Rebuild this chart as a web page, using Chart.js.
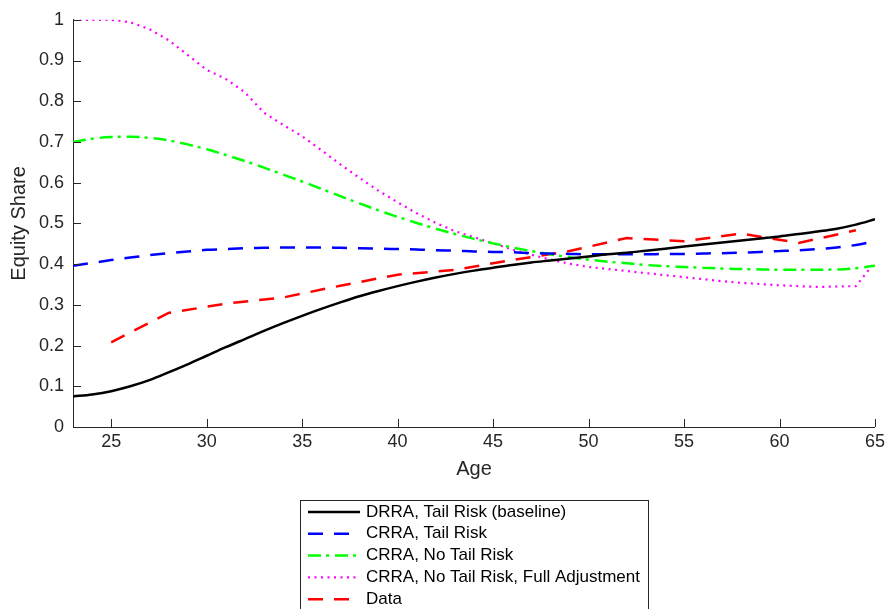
<!DOCTYPE html>
<html>
<head>
<meta charset="utf-8">
<script src="https://cdn.jsdelivr.net/npm/chart.js"></script>
<style>
  html, body { margin: 0; padding: 0; background: #fff; }
  #wrap { width: 889px; height: 609px; }
</style>
</head>
<body>
<div id="wrap"><canvas id="line-chart" width="889" height="609"></canvas></div>
<script>
// model ages, one point per year
var ages = [23,24,25,26,27,28,29,30,31,32,33,34,35,36,37,38,39,40,41,42,43,44,
            45,46,47,48,49,50,51,52,53,54,55,56,57,58,59,60,61,62,63,64,65];

var drraTail = [0.075,0.080,0.088,0.100,0.115,0.134,0.154,0.175,0.196,0.216,0.236,0.255,
                0.273,0.290,0.306,0.321,0.334,0.346,0.357,0.367,0.376,0.384,0.391,0.398,
                0.404,0.409,0.414,0.419,0.424,0.428,0.433,0.438,0.443,0.448,0.453,0.458,
                0.463,0.468,0.474,0.480,0.487,0.497,0.510];

var crraTail = [0.396,0.403,0.410,0.416,0.422,0.427,0.431,0.435,0.437,0.439,0.440,0.441,
                0.441,0.441,0.440,0.439,0.438,0.437,0.436,0.434,0.433,0.431,0.430,0.429,
                0.427,0.426,0.425,0.424,0.424,0.424,0.424,0.425,0.425,0.426,0.427,0.428,
                0.430,0.432,0.434,0.437,0.441,0.447,0.456];

var crraNoTail = [0.700,0.708,0.712,0.713,0.710,0.704,0.694,0.682,0.668,0.653,0.637,0.620,
                  0.603,0.585,0.567,0.549,0.532,0.516,0.501,0.487,0.474,0.462,0.451,0.441,
                  0.432,0.424,0.417,0.411,0.406,0.402,0.398,0.395,0.393,0.391,0.389,0.388,
                  0.387,0.386,0.386,0.386,0.387,0.390,0.396];

var crraFull = [1.000,1.000,1.000,0.994,0.977,0.950,0.914,0.877,0.855,0.822,0.772,0.742,
                0.714,0.680,0.645,0.612,0.580,0.552,0.525,0.501,0.481,0.466,0.451,0.436,
                0.423,0.411,0.401,0.393,0.388,0.383,0.378,0.373,0.368,0.363,0.358,0.354,
                0.351,0.348,0.346,0.344,0.345,0.346,0.405];

// observed data, every third year
var dataAges = [25,28,31,34,37,40,43,46,49,52,55,58,61,64];
var dataShare = [0.208,0.280,0.303,0.318,0.347,0.374,0.386,0.410,0.432,0.464,0.456,0.475,0.452,0.483];

var xTicks = [25,30,35,40,45,50,55,60,65];
var yTicks = [0,0.1,0.2,0.3,0.4,0.5,0.6,0.7,0.8,0.9,1];

var ink = "#262626";
var fam = "'Liberation Sans', Arial, Helvetica, sans-serif";

function pts(xs, ys) {
    return xs.map(function (x, i) { return { x: x, y: ys[i] }; });
}

// ticks pointing into the plot, like the original
var innerTicks = {
    id: 'innerTicks',
    afterDraw: function (chart) {
        var ctx = chart.ctx, a = chart.chartArea;
        var xs = chart.scales.x, ys = chart.scales.y;
        ctx.save();
        ctx.strokeStyle = ink;
        ctx.lineWidth = 1;
        ctx.beginPath();
        xTicks.forEach(function (v) {
            var p = Math.round(xs.getPixelForValue(v)) + 0.5;
            ctx.moveTo(p, a.bottom);
            ctx.lineTo(p, a.bottom - 8);
        });
        yTicks.forEach(function (v) {
            var p = Math.round(ys.getPixelForValue(v)) + 0.5;
            ctx.moveTo(a.left, p);
            ctx.lineTo(a.left + 8, p);
        });
        ctx.stroke();
        ctx.restore();
    }
};

// boxed legend under the axis
var boxLegend = {
    id: 'boxLegend',
    afterDraw: function (chart) {
        var ctx = chart.ctx;
        var bx = 300, by = 500, bw = 348, rowH = 21.8;
        ctx.save();
        ctx.strokeStyle = ink;
        ctx.lineWidth = 1;
        ctx.setLineDash([]);
        ctx.strokeRect(bx + 0.5, by + 0.5, bw, 130);
        ctx.font = "17px " + fam;
        ctx.textBaseline = "middle";
        chart.data.datasets.forEach(function (ds, i) {
            var y = by + 12 + i * rowH;
            ctx.save();
            ctx.strokeStyle = ds.borderColor;
            ctx.lineWidth = ds.borderWidth;
            ctx.lineCap = 'butt';
            ctx.setLineDash(ds.borderDash || []);
            ctx.beginPath();
            ctx.moveTo(bx + 8, y);
            ctx.lineTo(bx + 60, y);
            ctx.stroke();
            ctx.restore();
            ctx.fillStyle = "#000";
            ctx.fillText(ds.label, bx + 66, y);
        });
        ctx.restore();
    }
};

new Chart(document.getElementById("line-chart"), {
    type: 'line',
    data: {
        datasets: [{
            label: "DRRA, Tail Risk (baseline)",
            data: pts(ages, drraTail),
            borderColor: "#000000",
            borderWidth: 2.5,
            cubicInterpolationMode: 'monotone'
        }, {
            label: "CRRA, Tail Risk",
            data: pts(ages, crraTail),
            borderColor: "#0000ff",
            borderWidth: 2.5,
            borderDash: [15, 11],
            cubicInterpolationMode: 'monotone'
        }, {
            label: "CRRA, No Tail Risk",
            data: pts(ages, crraNoTail),
            borderColor: "#00ff00",
            borderWidth: 2.5,
            borderDash: [13, 5, 3, 6],
            cubicInterpolationMode: 'monotone'
        }, {
            label: "CRRA, No Tail Risk, Full Adjustment",
            data: pts(ages, crraFull),
            borderColor: "#ff00ff",
            borderWidth: 2.2,
            borderDash: [2, 4.5],
            tension: 0
        }, {
            label: "Data",
            data: pts(dataAges, dataShare),
            borderColor: "#ff0000",
            borderWidth: 2.5,
            borderDash: [15, 11],
            tension: 0
        }]
    },
    options: {
        responsive: false,
        animation: false,
        layout: { padding: { top: 16, right: 13, bottom: 124, left: 0 } },
        elements: { point: { radius: 0 }, line: { borderCapStyle: 'butt', fill: false } },
        plugins: { legend: { display: false }, tooltip: { enabled: false } },
        scales: {
            x: {
                type: 'linear',
                min: 23,
                max: 65,
                afterBuildTicks: function (s) { s.ticks = xTicks.map(function (v) { return { value: v }; }); },
                afterFit: function (s) { s.height = 58; },
                grid: { display: false, drawTicks: false },
                border: { display: true, color: ink, width: 1 },
                ticks: { padding: 4, color: ink, font: { family: fam, size: 18 }, maxRotation: 0, autoSkip: false },
                title: { display: true, text: 'Age', color: ink, font: { family: fam, size: 20 }, padding: { top: 4, bottom: 4 } }
            },
            y: {
                min: 0,
                max: 1,
                afterBuildTicks: function (s) { s.ticks = yTicks.map(function (v) { return { value: v }; }); },
                afterFit: function (s) { s.width = 73; },
                grid: { display: false, drawTicks: false },
                border: { display: true, color: ink, width: 1 },
                ticks: {
                    padding: 9, color: ink, font: { family: fam, size: 18 },
                    callback: function (v) { return String(+v.toFixed(1)); }
                },
                title: { display: true, text: 'Equity Share', color: ink, font: { family: fam, size: 20 }, padding: { top: 7, bottom: 0 } }
            }
        }
    },
    plugins: [innerTicks, boxLegend]
});
</script>
</body>
</html>
